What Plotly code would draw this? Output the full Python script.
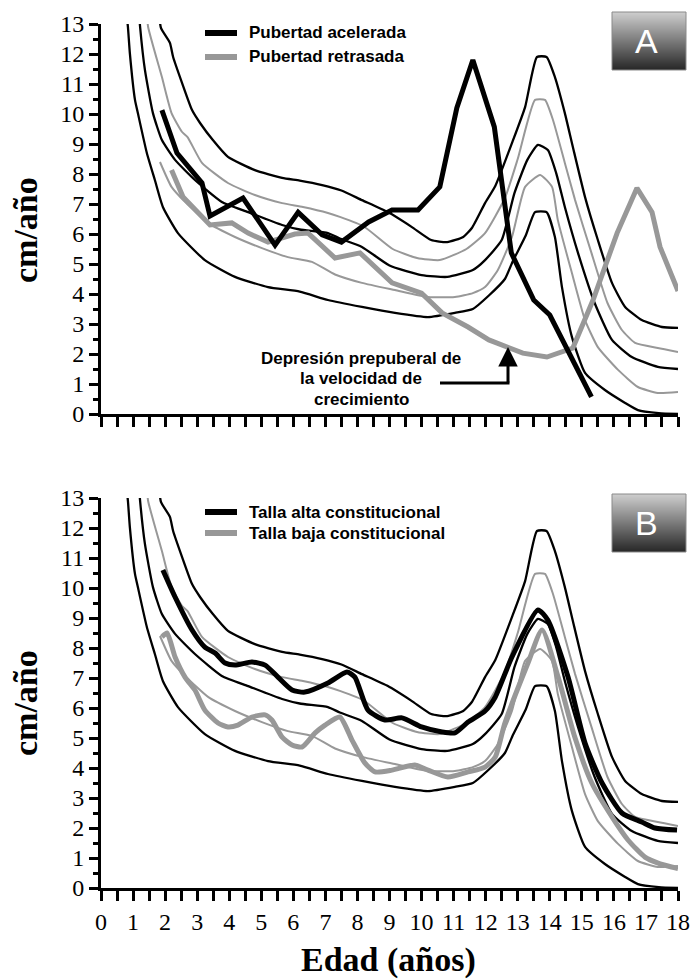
import plotly.graph_objects as go

# ---------------- data ----------------
# reference percentile curves (same in both panels)
p97_age = [1.80, 1.87, 2.15, 2.25, 2.53, 2.84, 3.09, 3.49, 3.96, 4.8, 5.65, 6.2, 6.9, 7.5, 8.14, 8.95, 9.7, 10.3, 10.8, 11.3, 11.57, 11.98, 12.3, 12.82, 13.23, 13.6, 13.9, 14.16, 14.47, 14.72, 15.1, 15.5, 15.94, 16.35, 16.87, 17.5, 18.0]
p97_val = [13.5, 12.87, 12.37, 11.9, 11.03, 10.13, 9.7, 9.13, 8.57, 8.13, 7.87, 7.78, 7.63, 7.45, 7.13, 6.73, 6.23, 5.8, 5.73, 5.9, 6.2, 7.03, 7.6, 9.03, 10.23, 11.9, 11.9, 11.23, 10.03, 8.9, 7.23, 5.8, 4.37, 3.57, 3.13, 2.9, 2.87]

p90_age = [1.42, 1.47, 1.9, 2.2, 2.53, 2.7, 3.15, 3.96, 4.8, 5.65, 6.3, 7.08, 7.45, 8.2, 9.1, 9.86, 10.57, 11.4, 11.98, 12.6, 13.0, 13.54, 13.85, 14.1, 14.47, 14.79, 15.3, 15.8, 16.25, 16.66, 17.37, 18.0]
p90_val = [13.5, 12.9, 11.23, 10.03, 9.4, 9.23, 8.37, 7.7, 7.3, 7.03, 6.9, 6.7, 6.57, 6.25, 5.5, 5.2, 5.13, 5.5, 6.03, 7.2, 8.5, 10.47, 10.47, 9.8, 8.37, 7.13, 5.37, 3.7, 2.8, 2.37, 2.2, 2.07]

p50_age = [1.18, 1.22, 1.37, 1.62, 1.9, 2.31, 2.93, 3.77, 4.59, 5.65, 6.2, 7.08, 7.45, 8.14, 9.0, 10.0, 10.8, 11.6, 11.98, 12.5, 12.9, 13.3, 13.63, 13.94, 14.2, 14.47, 14.88, 15.4, 15.94, 16.56, 17.37, 18.0]
p50_val = [13.5, 12.9, 11.47, 10.03, 9.13, 8.47, 7.8, 7.07, 6.73, 6.3, 6.15, 6.03, 5.85, 5.57, 4.95, 4.63, 4.57, 4.8, 5.13, 5.8, 7.37, 8.47, 8.97, 8.8, 8.03, 6.9, 5.37, 3.7, 2.47, 1.9, 1.57, 1.5]

p10_age = [1.84, 2.2, 2.62, 3.34, 4.18, 5.02, 5.83, 6.58, 7.3, 8.14, 9.17, 10.2, 11.04, 11.6, 11.98, 12.38, 12.82, 13.23, 13.7, 14.07, 14.25, 14.69, 15.1, 15.5, 16.13, 16.75, 17.37, 18.0]
p10_val = [8.4, 7.57, 7.07, 6.37, 5.9, 5.53, 5.23, 5.07, 4.65, 4.37, 4.13, 3.9, 3.9, 4.03, 4.23, 4.8, 5.9, 7.57, 7.97, 7.57, 6.47, 4.7, 3.13, 2.23, 1.47, 0.9, 0.7, 0.73]

p3_age = [0.78, 0.84, 0.9, 1.06, 1.15, 1.43, 1.68, 1.93, 2.4, 3.24, 4.18, 5.21, 6.2, 7.08, 8.14, 9.17, 10.2, 11.04, 11.6, 12.1, 12.6, 12.85, 13.25, 13.54, 13.9, 14.16, 14.38, 14.69, 15.1, 15.72, 16.35, 16.75, 17.4, 18.0]
p3_val = [13.5, 12.9, 12.03, 10.47, 10.03, 8.7, 7.8, 6.9, 6.03, 5.13, 4.57, 4.23, 4.08, 3.8, 3.57, 3.37, 3.23, 3.37, 3.5, 3.95, 4.5, 5.1, 5.95, 6.73, 6.73, 5.9, 4.23, 2.57, 1.37, 0.8, 0.37, 0.13, 0.03, 0.0]

# panel A patients
acel_age = [1.9, 2.37, 3.15, 3.4, 4.43, 5.43, 6.15, 6.9, 7.5, 8.35, 9.08, 9.89, 10.57, 11.1, 11.6, 12.27, 12.8, 13.5, 14.0, 15.3]
acel_val = [10.13, 8.7, 7.7, 6.6, 7.2, 5.63, 6.72, 5.97, 5.73, 6.4, 6.8, 6.8, 7.57, 10.2, 11.8, 9.57, 5.37, 3.8, 3.3, 0.57]

retr_age = [2.2, 2.56, 3.4, 4.08, 4.59, 5.21, 6.05, 6.46, 7.3, 8.08, 9.08, 10.0, 10.64, 11.45, 12.1, 13.16, 13.91, 14.72, 15.35, 16.1, 16.72, 17.19, 17.44, 18.0]
retr_val = [8.13, 7.23, 6.3, 6.37, 6.03, 5.73, 6.0, 6.03, 5.2, 5.37, 4.37, 4.03, 3.37, 2.9, 2.47, 2.03, 1.9, 2.2, 3.8, 6.03, 7.53, 6.73, 5.57, 4.1]

# panel B patients
alta_age = [1.93, 2.31, 2.84, 3.24, 3.56, 3.87, 4.18, 4.71, 5.12, 5.52, 5.96, 6.36, 7.08, 7.67, 7.92, 8.33, 8.86, 9.39, 10.0, 10.64, 11.04, 11.45, 11.98, 12.3, 12.82, 13.63, 13.94, 14.57, 15.1, 15.63, 16.25, 16.87, 17.28, 17.97]
alta_val = [10.6, 9.7, 8.6, 8.03, 7.83, 7.5, 7.43, 7.53, 7.43, 7.03, 6.6, 6.53, 6.83, 7.2, 7.03, 5.93, 5.6, 5.67, 5.37, 5.2, 5.17, 5.53, 5.9, 6.37, 7.7, 9.27, 8.93, 7.03, 4.83, 3.5, 2.5, 2.2, 2.0, 1.93]

baja_age = [1.9, 2.06, 2.31, 2.62, 2.93, 3.24, 3.65, 3.96, 4.27, 4.71, 5.12, 5.33, 5.65, 5.96, 6.27, 6.68, 6.99, 7.45, 7.83, 8.23, 8.55, 9.08, 9.79, 10.2, 10.82, 11.45, 11.98, 12.3, 12.6, 13.32, 13.76, 14.26, 14.78, 15.31, 15.94, 16.44, 16.97, 17.38, 17.8, 18.0]
baja_val = [8.37, 8.5, 7.7, 7.03, 6.6, 5.93, 5.5, 5.37, 5.43, 5.7, 5.77, 5.6, 5.03, 4.77, 4.7, 5.17, 5.43, 5.7, 4.93, 4.17, 3.87, 3.93, 4.1, 3.93, 3.7, 3.87, 4.03, 4.37, 5.5, 7.5, 8.6, 7.03, 5.03, 3.5, 2.37, 1.6, 1.03, 0.83, 0.7, 0.65]

legend_a = ["Pubertad acelerada", "Pubertad retrasada"]
legend_b = ["Talla alta constitucional", "Talla baja constitucional"]
note_lines = ["Depresión prepuberal de", "la velocidad de", "crecimiento"]
y_title = "cm/año"
x_title = "Edad (años)"
x_ticks = list(range(0, 19))
y_ticks = list(range(0, 14))

# ---------------- layout helpers ----------------
FIG_W, FIG_H = 697, 980
ML, MR, MT, MB = 101, 19, 24, 92
PW = FIG_W - ML - MR
PH = FIG_H - MT - MB


def pxx(x):
    return (x - ML) / PW


def pyy(y):
    return (FIG_H - MB - y) / PH


BLACK = "#000000"
GRAY = "#989898"

fig = go.Figure()

percentiles = [
    (p97_age, p97_val, BLACK, 2.3),
    (p90_age, p90_val, GRAY, 2.0),
    (p50_age, p50_val, BLACK, 2.3),
    (p10_age, p10_val, GRAY, 2.0),
    (p3_age, p3_val, BLACK, 2.3),
]

for xa, ya in (("x", "y"), ("x2", "y2")):
    for ages, vals, col, w in percentiles:
        fig.add_trace(go.Scatter(x=ages, y=vals, mode="lines", xaxis=xa, yaxis=ya,
                                 line=dict(color=col, width=w, shape="spline", smoothing=0.5),
                                 showlegend=False, hoverinfo="skip"))

fig.add_trace(go.Scatter(x=retr_age, y=retr_val, mode="lines", xaxis="x", yaxis="y",
                         line=dict(color=GRAY, width=5), showlegend=False))
fig.add_trace(go.Scatter(x=acel_age, y=acel_val, mode="lines", xaxis="x", yaxis="y",
                         line=dict(color=BLACK, width=5), showlegend=False))
fig.add_trace(go.Scatter(x=baja_age, y=baja_val, mode="lines", xaxis="x2", yaxis="y2",
                         line=dict(color=GRAY, width=5, shape="spline", smoothing=0.6), showlegend=False))
fig.add_trace(go.Scatter(x=alta_age, y=alta_val, mode="lines", xaxis="x2", yaxis="y2",
                         line=dict(color=BLACK, width=5, shape="spline", smoothing=0.6), showlegend=False))

serif = "Liberation Serif, Times New Roman, serif"
sans = "Liberation Sans, Arial, sans-serif"

xcommon = dict(range=[0, 18], tickmode="array", tickvals=x_ticks, ticks="outside", ticklen=10,
               tickwidth=2.5, tickcolor=BLACK, showline=True, linecolor=BLACK, linewidth=3,
               showgrid=False, zeroline=False, automargin=False,
               tickfont=dict(family=serif, size=24, color=BLACK),
               minor=dict(dtick=0.5, tick0=0, ticks="outside", ticklen=10, tickwidth=2.5, tickcolor=BLACK))
ycommon = dict(range=[0, 13], tickmode="array", tickvals=y_ticks, ticks="outside", ticklen=9,
               tickwidth=2.5, tickcolor=BLACK, showline=True, linecolor=BLACK, linewidth=3,
               showgrid=False, zeroline=False, automargin=False,
               tickfont=dict(family=serif, size=24, color=BLACK),
               minor=dict(dtick=0.5, tick0=0, ticks="outside", ticklen=5, tickwidth=2.5, tickcolor=BLACK))

top_dom = [pyy(414), 1.0]
bot_dom = [0.0, pyy(498)]

fig.update_layout(
    width=FIG_W, height=FIG_H, autosize=False,
    margin=dict(l=ML, r=MR, t=MT, b=MB, autoexpand=False),
    paper_bgcolor="white", plot_bgcolor="white",
    xaxis=dict(**xcommon, anchor="y", showticklabels=False),
    yaxis=dict(**ycommon, anchor="x", domain=top_dom),
    xaxis2=dict(**xcommon, anchor="y2", showticklabels=True),
    yaxis2=dict(**ycommon, anchor="x2", domain=bot_dom),
)

shapes = []
annotations = []

# axis titles
for cy in (230, 703):
    annotations.append(dict(x=pxx(25), y=pyy(cy), xref="paper", yref="paper", text="<b>" + y_title + "</b>",
                            textangle=-90, showarrow=False, xanchor="center", yanchor="middle",
                            font=dict(family=serif, size=34, color=BLACK)))
annotations.append(dict(x=pxx(388), y=pyy(960), xref="paper", yref="paper", text="<b>" + x_title + "</b>",
                        showarrow=False, xanchor="center", yanchor="middle",
                        font=dict(family=serif, size=34, color=BLACK)))

# manual legends
for labels, ys in ((legend_a, (33, 57)), (legend_b, (512, 533))):
    for lab, yy, col in zip(labels, ys, (BLACK, GRAY)):
        shapes.append(dict(type="line", xref="paper", yref="paper", x0=pxx(205), x1=pxx(237),
                           y0=pyy(yy), y1=pyy(yy), line=dict(color=col, width=6)))
        annotations.append(dict(x=pxx(247), y=pyy(yy), xref="paper", yref="paper", text="<b>" + lab + "</b>",
                                showarrow=False, xanchor="left", yanchor="middle",
                                font=dict(family=sans, size=17, color=BLACK)))

# prepubertal note
for txt, yy in zip(note_lines, (358, 378, 399)):
    annotations.append(dict(x=pxx(361), y=pyy(yy), xref="paper", yref="paper", text="<b>" + txt + "</b>",
                            showarrow=False, xanchor="center", yanchor="middle",
                            font=dict(family=sans, size=17, color=BLACK)))
shapes.append(dict(type="line", xref="paper", yref="paper", x0=pxx(440), x1=pxx(509.5),
                   y0=pyy(383), y1=pyy(383), line=dict(color=BLACK, width=3)))
annotations.append(dict(x=pxx(508), y=pyy(347), xref="paper", yref="paper", text="",
                        showarrow=True, ax=0, ay=37, arrowhead=2, arrowsize=1.3, arrowwidth=3,
                        arrowcolor=BLACK))

# panel label boxes with vertical gradient
for letter, top in (("A", 12), ("B", 494)):
    x0, x1 = 612, 686
    h = 58
    n = 58
    for i in range(n):
        f = i / (n - 1)
        g = int(round(205 - f * 165))
        shapes.append(dict(type="rect", xref="paper", yref="paper", x0=pxx(x0), x1=pxx(x1),
                           y0=pyy(top + h * i / n), y1=pyy(top + h * (i + 1) / n),
                           fillcolor=f"rgb({g},{g},{g})", line=dict(width=0)))
    shapes.append(dict(type="rect", xref="paper", yref="paper", x0=pxx(x0), x1=pxx(x1),
                       y0=pyy(top), y1=pyy(top + h), fillcolor="rgba(0,0,0,0)",
                       line=dict(color="#8a8a8a", width=1)))
    annotations.append(dict(x=pxx(646), y=pyy(top + 29), xref="paper", yref="paper", text=letter,
                            showarrow=False, xanchor="center", yanchor="middle",
                            font=dict(family=sans, size=34, color="white")))

fig.update_layout(shapes=shapes, annotations=annotations)
fig.write_html("out.html", config={"displayModeBar": False},
               post_script="document.body.style.margin='0';document.body.style.overflow='hidden';")
